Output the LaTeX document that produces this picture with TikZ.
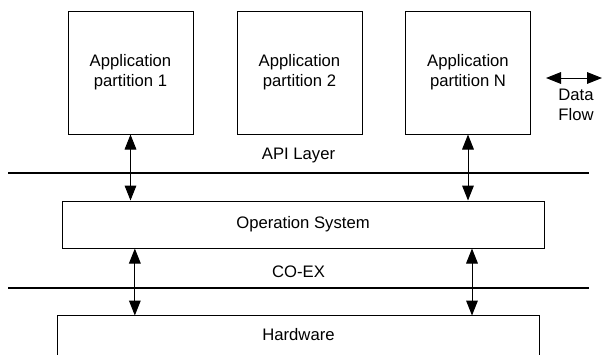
\documentclass[tikz,border=0pt]{standalone}
\usepackage{fontspec}
\setmainfont{Liberation Sans}
\usetikzlibrary{arrows.meta,positioning}
\tikzset{
  part/.style={draw, line width=0.6pt, minimum width=75pt, minimum height=73.8pt, align=center, inner sep=0pt},
  layer/.style={draw, line width=0.6pt, minimum width=289.2pt, minimum height=28.2pt, inner sep=0pt},
  flow/.style={{Triangle[length=9pt,width=7pt]}-{Triangle[length=9pt,width=7pt]}, line width=0.6pt},
  bus/.style={line width=1.5pt}
}
\begin{document}
\begin{tikzpicture}[x=0.6pt, y=-0.6pt]
    \useasboundingbox (0,0) rectangle (602,354);

    % Application partitions
    \node[part] (app1) at (130.5,72.5) {Application\\partition 1};
    \node[part] (app2) at (299.5,72.5) {Application\\partition 2};
    \node[part] (appN) at (468,72.5) {Application\\partition N};

    % Legend
    \coordinate (df-l) at (546,78);
    \coordinate (df-r) at (602,78);
    \draw[flow] (df-l) -- (df-r);
    \node[align=center] (dflabel) at (576,105) {Data\\Flow};

    % API layer
    \coordinate (api-l) at (8,173);
    \coordinate (api-r) at (589,173);
    \draw[bus] (api-l) -- (api-r);
    \node (apilabel) at (298.5,155) {API Layer};

    % Operation system
    \node[layer] (os) at (303,224.5) {Operation System};

    % CO-EX
    \coordinate (cx-l) at (8,288);
    \coordinate (cx-r) at (589,288);
    \draw[bus] (cx-l) -- (cx-r);
    \node (cxlabel) at (298.5,272) {CO-EX};

    % Hardware (open at the bottom)
    \node[layer, draw=none, minimum height=22.8pt, minimum width=288.6pt] (hw) at (298.5,335) {Hardware};
    \draw[line width=0.6pt] (hw.south west) -- (hw.north west) -- (hw.north east) -- (hw.south east);

    % Data flow
    \draw[flow] (app1.south) -- (app1.south |- os.north);
    \draw[flow] (appN.south) -- (appN.south |- os.north);
    \draw[flow] ([xshift=2.6pt]app1.south |- os.south) -- ([xshift=2.6pt]app1.south |- hw.north);
    \draw[flow] ([xshift=2.4pt]appN.south |- os.south) -- ([xshift=2.4pt]appN.south |- hw.north);
\end{tikzpicture}
\end{document}
